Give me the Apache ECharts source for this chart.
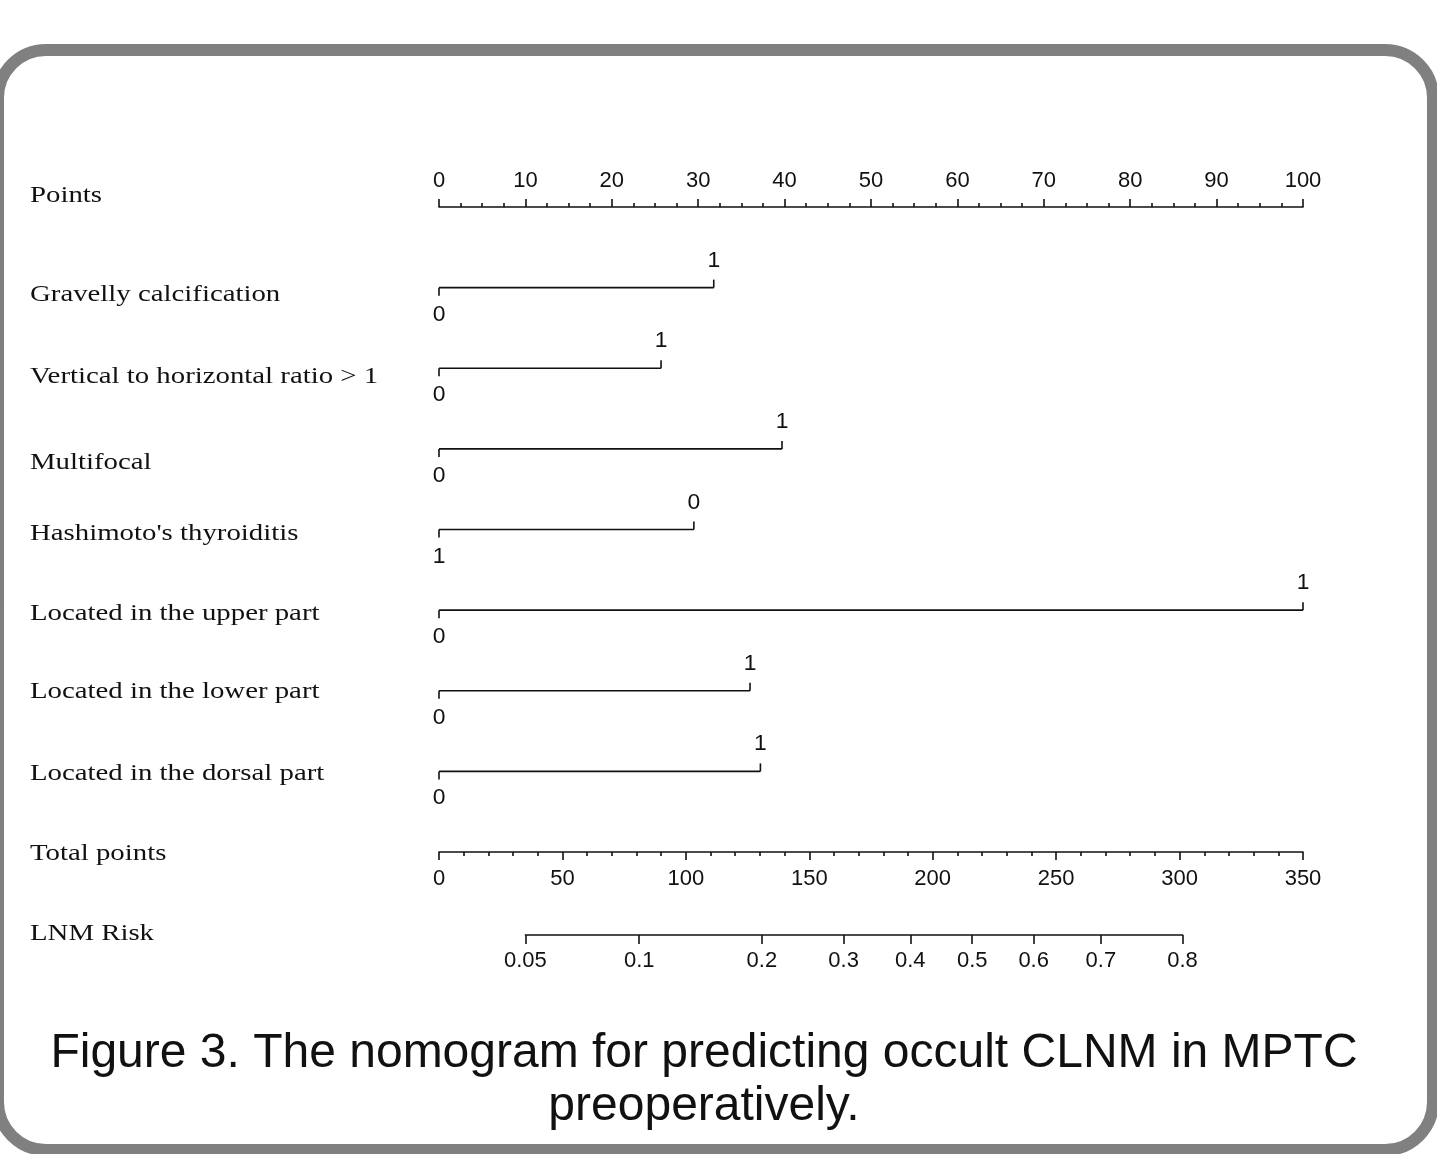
<!DOCTYPE html>
<html>
<head>
<meta charset="utf-8">
<script src="https://cdn.jsdelivr.net/npm/echarts@6/dist/echarts.min.js"></script>
<style>html,body{margin:0;padding:0;background:#fff;}#c{width:1437px;height:1154px;}</style>
</head>
<body>
<div id="c"></div>
<script>
// ---- data ----
const rowNames = ['Points', 'Gravelly calcification', 'Vertical to horizontal ratio > 1', 'Multifocal',
  "Hashimoto's thyroiditis", 'Located in the upper part', 'Located in the lower part',
  'Located in the dorsal part', 'Total points'];
const varNames = rowNames.slice(1, 8);
const varMaxPoints = [31.8, 25.7, 39.7, 29.5, 100, 36.0, 37.2];
const varLowLabels = ['0', '0', '0', '1', '0', '0', '0'];
const varHighLabels = ['1', '1', '1', '0', '1', '1', '1'];
const pointsTicks = [0, 10, 20, 30, 40, 50, 60, 70, 80, 90, 100];
const totalTicks = [0, 50, 100, 150, 200, 250, 300, 350];
const riskLabels = ['0.05', '0.1', '0.2', '0.3', '0.4', '0.5', '0.6', '0.7', '0.8'];
const riskTickPoints = [35.0, 81.1, 130.8, 163.9, 190.9, 216.0, 240.9, 268.1, 301.2];
const riskRowName = 'LNM Risk';
const titleText = 'Figure 3. The nomogram for predicting occult CLNM in MPTC\npreoperatively.';

// ---- layout ----
const gLeft = 439, gWidth = 864, gTop = 207, gBottom = 852;
const totalMax = totalTicks[totalTicks.length - 1];
const riskLeft = gLeft + gWidth * riskTickPoints[0] / totalMax;
const riskWidth = gWidth * (riskTickPoints[riskTickPoints.length - 1] - riskTickPoints[0]) / totalMax;
const nameX = 30;
const nameDy = [-11, 7, 8, 14, 4, 4, 1, 2, 2];   // vertical offset of each row name from its scale line
const riskNameDy = -1;
const nameFontCss = '24px "Liberation Serif"';
const nameScaleX = 1.2;
const tickFont = { fontFamily: 'Liberation Sans', fontSize: 22, color: '#111' };
const tickFontCss = '22px "Liberation Sans"';
const tickScaleX = 1.04;
const lineStyle = { color: '#111', width: 1.6 };

const chart = echarts.init(document.getElementById('c'), null, { renderer: 'canvas' });

const varData = varNames.map((n, i) => ({ value: [varMaxPoints[i], i + 1], low: varLowLabels[i], high: varHighLabels[i] }));

function txtEl(t, x, y, font, sx, align) {
  return { type: 'text', x: x, y: y, scaleX: sx,
    style: { text: t, x: 0, y: 0, align: align, verticalAlign: 'middle', font: font, fill: '#111' } };
}

function renderVar(params, api) {
  const item = varData[params.dataIndex];
  const p0 = api.coord([0, api.value(1)]);
  const p1 = api.coord([api.value(0), api.value(1)]);
  const st = { stroke: '#111', lineWidth: 1.6 };
  return {
    type: 'group',
    children: [
      { type: 'line', shape: { x1: p0[0], y1: p0[1], x2: p1[0], y2: p1[1] }, style: st },
      { type: 'line', shape: { x1: p0[0], y1: p0[1], x2: p0[0], y2: p0[1] + 8 }, style: st },
      { type: 'line', shape: { x1: p1[0], y1: p1[1], x2: p1[0], y2: p1[1] - 8 }, style: st },
      txtEl(item.low, p0[0], p0[1] + 27, tickFontCss, tickScaleX, 'center'),
      txtEl(item.high, p1[0], p1[1] - 27, tickFontCss, tickScaleX, 'center')
    ]
  };
}

function renderName(params, api) {
  const p = api.coord([api.value(0), api.value(1)]);
  return txtEl(rowNames[params.dataIndex], nameX, p[1] + nameDy[params.dataIndex], nameFontCss, nameScaleX, 'left');
}
function renderRiskName(params, api) {
  const p = api.coord([api.value(0), api.value(1)]);
  return txtEl(riskRowName, nameX, p[1] + riskNameDy, nameFontCss, nameScaleX, 'left');
}

const option = {
  animation: false,
  backgroundColor: '#fff',
  grid: [
    { left: gLeft, width: gWidth, top: gTop, height: gBottom - gTop },
    { left: riskLeft, width: riskWidth, top: 934, height: 1 }
  ],
  xAxis: [
    {
      gridIndex: 0, type: 'value', position: 'top', min: pointsTicks[0], max: pointsTicks[pointsTicks.length - 1],
      interval: pointsTicks[1] - pointsTicks[0],
      axisLine: { show: true, lineStyle: lineStyle },
      axisTick: { show: true, length: 8, lineStyle: lineStyle },
      minorTick: { show: true, splitNumber: 4, length: 4, lineStyle: lineStyle },
      axisLabel: Object.assign({ margin: 15 }, tickFont),
      splitLine: { show: false }, minorSplitLine: { show: false }
    },
    {
      gridIndex: 0, type: 'value', position: 'bottom', min: totalTicks[0], max: totalMax,
      interval: totalTicks[1] - totalTicks[0],
      axisLine: { show: true, onZero: false, lineStyle: lineStyle },
      axisTick: { show: true, length: 8, lineStyle: lineStyle },
      minorTick: { show: true, splitNumber: 5, length: 4, lineStyle: lineStyle },
      axisLabel: Object.assign({ margin: 16 }, tickFont),
      splitLine: { show: false }, minorSplitLine: { show: false }
    },
    {
      gridIndex: 1, type: 'value', position: 'bottom', min: riskTickPoints[0], max: riskTickPoints[riskTickPoints.length - 1],
      axisLine: { show: true, onZero: false, lineStyle: lineStyle },
      axisTick: { show: true, length: 9, lineStyle: lineStyle, customValues: riskTickPoints },
      axisLabel: Object.assign({
        margin: 15, customValues: riskTickPoints,
        formatter: (v) => { const i = riskTickPoints.indexOf(v); return i >= 0 ? riskLabels[i] : ''; }
      }, tickFont),
      splitLine: { show: false }
    }
  ],
  yAxis: [
    {
      gridIndex: 0, type: 'category', data: rowNames, inverse: true, boundaryGap: false,
      axisLine: { show: false }, axisTick: { show: false }, splitLine: { show: false }, axisLabel: { show: false }
    },
    {
      gridIndex: 1, type: 'category', data: [riskRowName], boundaryGap: false,
      axisLine: { show: false }, axisTick: { show: false }, splitLine: { show: false }, axisLabel: { show: false }
    }
  ],
  series: [
    {
      type: 'custom', xAxisIndex: 0, yAxisIndex: 0, renderItem: renderVar,
      data: varData.map(d => d.value), encode: { x: 0, y: 1 }, silent: true
    },
    {
      type: 'custom', xAxisIndex: 0, yAxisIndex: 0, renderItem: renderName, clip: false,
      data: rowNames.map((n, i) => [0, i]), encode: { x: 0, y: 1 }, silent: true
    },
    {
      type: 'custom', xAxisIndex: 2, yAxisIndex: 1, renderItem: renderRiskName, clip: false,
      data: [[riskTickPoints[0], 0]], encode: { x: 0, y: 1 }, silent: true
    }
  ],
  graphic: [
    {
      type: 'rect', shape: { x: -2, y: 50, width: 1435, height: 1100, r: 48 },
      style: { fill: 'none', stroke: '#808080', lineWidth: 12 }, z: 100, silent: true
    },
    {
      type: 'text', x: 704, y: 1080,
      style: { text: titleText, align: 'center', verticalAlign: 'middle', font: '48px "Liberation Sans"', lineHeight: 53, fill: '#111' },
      silent: true
    }
  ]
};
chart.setOption(option);
</script>
</body>
</html>
